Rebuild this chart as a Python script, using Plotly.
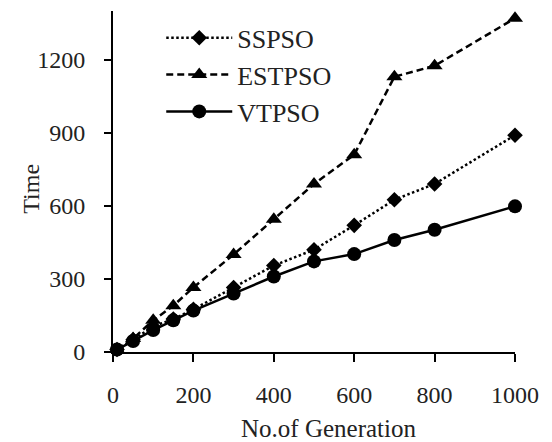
import plotly.graph_objects as go

# Number of generations (x) and run time of each PSO variant
generations = [10, 50, 100, 150, 200, 300, 400, 500, 600, 700, 800, 1000]
sspso = [10, 50, 105, 135, 175, 265, 355, 420, 520, 625, 690, 890]
estpso = [10, 55, 130, 190, 265, 400, 545, 690, 810, 1130, 1175, 1370]
vtpso = [10, 45, 90, 130, 170, 240, 310, 372, 402, 460, 502, 598]

x_ticks = [0, 200, 400, 600, 800, 1000]
y_ticks = [0, 300, 600, 900, 1200]

series = [
    ("SSPSO", sspso, "2.5px,2.5px", "diamond", 12),
    ("ESTPSO", estpso, "7px,4px", "triangle-up", 14),
    ("VTPSO", vtpso, "solid", "circle", 14),
]

FONT = "Liberation Serif"
INK = "#222"

fig = go.Figure()
for name, values, dash, symbol, size in series:
    fig.add_trace(go.Scatter(
        x=generations, y=values, name=name, mode="lines+markers",
        line=dict(color="black", width=2.5, dash=dash),
        marker=dict(symbol=symbol, size=size, color="black"),
        cliponaxis=False,
    ))

fig.update_layout(
    width=552, height=442,
    margin=dict(l=113, r=37, t=11, b=90),
    paper_bgcolor="white", plot_bgcolor="white",
    font=dict(family=FONT, color=INK, size=24),
    showlegend=True,
    legend=dict(
        x=0.12, y=0.99, xanchor="left", yanchor="top",
        bgcolor="rgba(0,0,0,0)", borderwidth=0,
        font=dict(family=FONT, size=26, color=INK),
        itemwidth=66,
    ),
    annotations=[
        dict(text="No.of Generation", xref="paper", yref="paper",
             x=0.535, y=-0.225, xanchor="center", yanchor="middle",
             showarrow=False, font=dict(family=FONT, size=25, color=INK)),
        dict(text="Time", xref="paper", yref="paper", textangle=-90,
             x=-0.203, y=0.48, xanchor="center", yanchor="middle",
             showarrow=False, font=dict(family=FONT, size=24, color=INK)),
    ],
)

fig.update_xaxes(
    range=[0, 1000], tickvals=x_ticks, ticktext=[str(v) for v in x_ticks],
    showgrid=False, zeroline=False, automargin=False,
    showline=True, linecolor="black", linewidth=2,
    ticks="outside", ticklen=8, tickwidth=2, tickcolor="black",
    ticklabelstandoff=12,
    tickfont=dict(family=FONT, size=24, color=INK),
)
fig.update_yaxes(
    range=[0, 1400], tickvals=y_ticks, ticktext=[str(v) for v in y_ticks],
    showgrid=False, zeroline=False, automargin=False,
    showline=True, linecolor="black", linewidth=2,
    ticks="outside", ticklen=7, tickwidth=2, tickcolor="black",
    ticklabelstandoff=14,
    tickfont=dict(family=FONT, size=24, color=INK),
)

fig.write_html("out.html")
